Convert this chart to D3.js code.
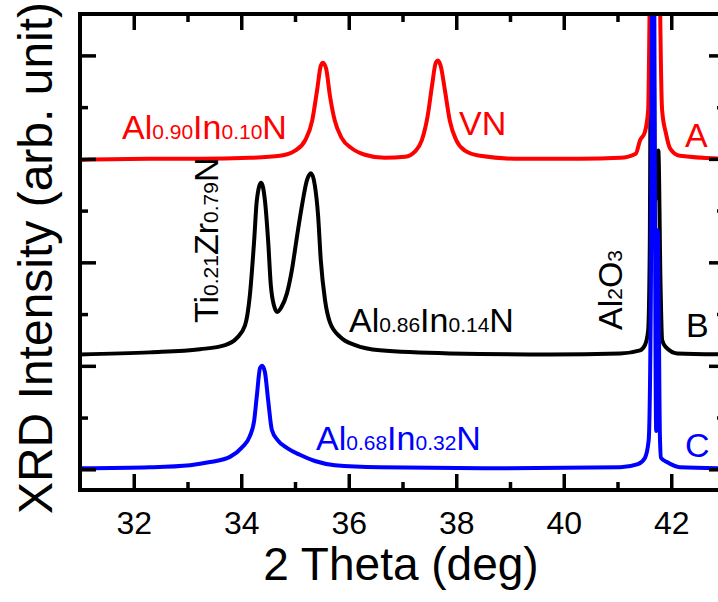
<!DOCTYPE html>
<html>
<head>
<meta charset="utf-8">
<script src="https://cdn.jsdelivr.net/npm/d3@7"></script>
<style>
  body { margin: 0; background: #fff; }
  svg { font-family: "Liberation Sans", Arial, sans-serif; }
</style>
</head>
<body>
<svg id="chart" width="718" height="602"></svg>
<script>
// 2 theta (deg), intensity (arb. unit, stacked with offsets)
const seriesA = [
  [31.00, 2.99], [32.30, 3.00], [33.23, 3.00], [34.16, 3.01], [34.72, 3.03],
  [35.00, 3.08], [35.19, 3.18], [35.32, 3.37], [35.41, 3.66], [35.48, 3.90],
  [35.52, 3.93], [35.58, 3.87], [35.65, 3.61], [35.74, 3.37], [35.87, 3.20],
  [36.06, 3.10], [36.30, 3.04], [36.67, 3.01], [37.05, 3.02], [37.23, 3.07],
  [37.36, 3.18], [37.47, 3.42], [37.55, 3.71], [37.62, 3.93], [37.66, 3.95],
  [37.71, 3.90], [37.79, 3.66], [37.88, 3.37], [38.00, 3.18], [38.16, 3.08],
  [38.44, 3.03], [39.19, 3.00], [40.30, 3.00], [41.05, 3.01], [41.34, 3.05],
  [41.42, 3.18], [41.51, 3.26], [41.57, 3.47], [41.60, 4.60], [41.64, 7.00],
  [41.70, 5.60], [41.75, 7.00], [41.79, 4.60], [41.83, 3.47], [41.90, 3.25],
  [41.98, 3.10], [42.16, 3.03], [43.00, 3.00]
];
const seriesB = [
  [31.00, 1.11], [32.30, 1.13], [33.23, 1.16], [33.70, 1.20], [33.92, 1.27],
  [34.07, 1.39], [34.16, 1.68], [34.24, 2.21], [34.29, 2.60], [34.37, 2.77],
  [34.44, 2.60], [34.50, 2.21], [34.55, 1.78], [34.61, 1.58], [34.67, 1.52],
  [34.74, 1.56], [34.85, 1.70], [34.94, 1.92], [35.04, 2.26], [35.13, 2.55],
  [35.22, 2.79], [35.30, 2.86], [35.37, 2.74], [35.43, 2.45], [35.48, 2.02],
  [35.56, 1.63], [35.65, 1.42], [35.84, 1.28], [36.12, 1.20], [36.58, 1.15],
  [37.88, 1.12], [39.74, 1.11], [41.05, 1.12], [41.42, 1.15], [41.51, 1.20],
  [41.57, 1.34], [41.60, 2.12], [41.64, 7.00], [41.70, 2.60], [41.76, 3.08],
  [41.80, 1.80], [41.83, 1.25], [41.90, 1.18], [42.11, 1.12], [43.00, 1.11]
];
const seriesC = [
  [31.00, 0.01], [32.30, 0.02], [33.05, 0.04], [33.42, 0.07], [33.79, 0.12],
  [34.01, 0.21], [34.16, 0.32], [34.24, 0.47], [34.29, 0.71], [34.35, 0.98],
  [34.39, 1.00], [34.44, 0.94], [34.50, 0.67], [34.57, 0.38], [34.68, 0.28],
  [34.87, 0.20], [35.09, 0.14], [35.37, 0.08], [35.74, 0.04], [36.58, 0.02],
  [38.81, 0.01], [41.05, 0.02], [41.38, 0.05], [41.51, 0.11], [41.58, 0.28],
  [41.62, 1.63], [41.66, 7.00], [41.72, 0.37], [41.75, 2.31], [41.79, 0.30],
  [41.81, 0.11], [41.92, 0.07], [42.16, 0.02], [43.00, 0.01]
];

const xMajor = [32, 34, 36, 38, 40, 42];
const xMinor = [33, 35, 37, 39, 41, 43];
const yMajor = [0, 1, 2, 3, 4];
const yMinor = [0.5, 1.5, 2.5, 3.5];

const m = { left: 80, right: 725, top: 14, bottom: 490 };

const svg = d3.select("#chart");

const x = d3.scaleLinear().domain([31, 43]).range([m.left, m.right]);
const y = d3.scaleLinear().domain([-0.2, 4.4]).range([m.bottom, m.top]);

svg.append("defs").append("clipPath").attr("id", "plot")
  .append("rect")
  .attr("x", m.left).attr("y", m.top)
  .attr("width", m.right - m.left).attr("height", m.bottom - m.top);

// curves
const line = d3.line()
  .x((d) => x(d[0]))
  .y((d) => y(d[1]))
  .curve(d3.curveMonotoneX);

const curves = svg.append("g").attr("clip-path", "url(#plot)");
[
  [seriesB, "#000000"],
  [seriesA, "#ff0000"],
  [seriesC, "#0000ff"]
].forEach(([data, color]) => {
  curves.append("path")
    .datum(data)
    .attr("fill", "none")
    .attr("stroke", color)
    .attr("stroke-width", 4)
    .attr("stroke-linejoin", "round")
    .attr("d", line);
});

// axes (ticks point inward)
function styleAxis(g) {
  g.select(".domain").remove();
  g.selectAll(".tick line").attr("stroke", "#000").attr("stroke-width", 3.5);
  g.selectAll(".tick text").attr("fill", "#000").attr("font-size", 32);
}

svg.append("g")
  .attr("transform", `translate(0,${m.bottom})`)
  .call(d3.axisBottom(x).tickValues(xMajor).tickSize(-16).tickPadding(21).tickFormat(d3.format("d")))
  .call(styleAxis);
svg.append("g")
  .attr("transform", `translate(0,${m.bottom})`)
  .call(d3.axisBottom(x).tickValues(xMinor).tickSize(-8).tickFormat(""))
  .call(styleAxis);
svg.append("g")
  .attr("transform", `translate(0,${m.top})`)
  .call(d3.axisTop(x).tickValues(xMajor).tickSize(-16).tickFormat(""))
  .call(styleAxis);
svg.append("g")
  .attr("transform", `translate(0,${m.top})`)
  .call(d3.axisTop(x).tickValues(xMinor).tickSize(-8).tickFormat(""))
  .call(styleAxis);
svg.append("g")
  .attr("transform", `translate(${m.left},0)`)
  .call(d3.axisLeft(y).tickValues(yMajor).tickSize(-16).tickFormat(""))
  .call(styleAxis);
svg.append("g")
  .attr("transform", `translate(${m.left},0)`)
  .call(d3.axisLeft(y).tickValues(yMinor).tickSize(-8).tickFormat(""))
  .call(styleAxis);
svg.append("g")
  .attr("transform", `translate(${m.right},0)`)
  .call(d3.axisRight(y).tickValues(yMajor).tickSize(-16).tickFormat(""))
  .call(styleAxis);
svg.append("g")
  .attr("transform", `translate(${m.right},0)`)
  .call(d3.axisRight(y).tickValues(yMinor).tickSize(-8).tickFormat(""))
  .call(styleAxis);

svg.append("rect")
  .attr("x", m.left).attr("y", m.top)
  .attr("width", m.right - m.left).attr("height", m.bottom - m.top)
  .attr("fill", "none")
  .attr("stroke", "#000")
  .attr("stroke-width", 4);

// axis titles
svg.append("text")
  .attr("x", 401).attr("y", 580)
  .attr("text-anchor", "middle")
  .attr("font-size", 46)
  .text("2 Theta (deg)");
svg.append("text")
  .attr("transform", "translate(52,258) rotate(-90)")
  .attr("text-anchor", "middle")
  .attr("font-size", 48)
  .text("XRD Intensity (arb. unit)");

// annotations: [parts, x, y, color, rotated]
const labels = [
  [[["Al", 0], ["0.90", 1], ["In", 0], ["0.10", 1], ["N", 0]], 122, 139, "#ff0000", false],
  [[["VN", 0]], 459, 135, "#ff0000", false],
  [[["A", 0]], 685, 147, "#ff0000", false],
  [[["Ti", 0], ["0.21", 1], ["Zr", 0], ["0.79", 1], ["N", 0]], 218, 323, "#000000", true],
  [[["Al", 0], ["0.86", 1], ["In", 0], ["0.14", 1], ["N", 0]], 349, 332, "#000000", false],
  [[["Al", 0], ["2", 1], ["O", 0], ["3", 1]], 622, 330, "#000000", true],
  [[["B", 0]], 686, 337, "#000000", false],
  [[["Al", 0], ["0.68", 1], ["In", 0], ["0.32", 1], ["N", 0]], 316, 450, "#0000ff", false],
  [[["C", 0]], 685, 457, "#0000ff", false]
];

labels.forEach(([parts, lx, ly, color, rotated]) => {
  const t = svg.append("text")
    .attr("transform", rotated ? `translate(${lx},${ly}) rotate(-90)` : `translate(${lx},${ly})`)
    .attr("fill", color)
    .attr("font-size", 34);
  parts.forEach(([s, sub]) => {
    t.append("tspan").attr("font-size", sub ? 21 : 34).text(s);
  });
});
</script>
</body>
</html>
